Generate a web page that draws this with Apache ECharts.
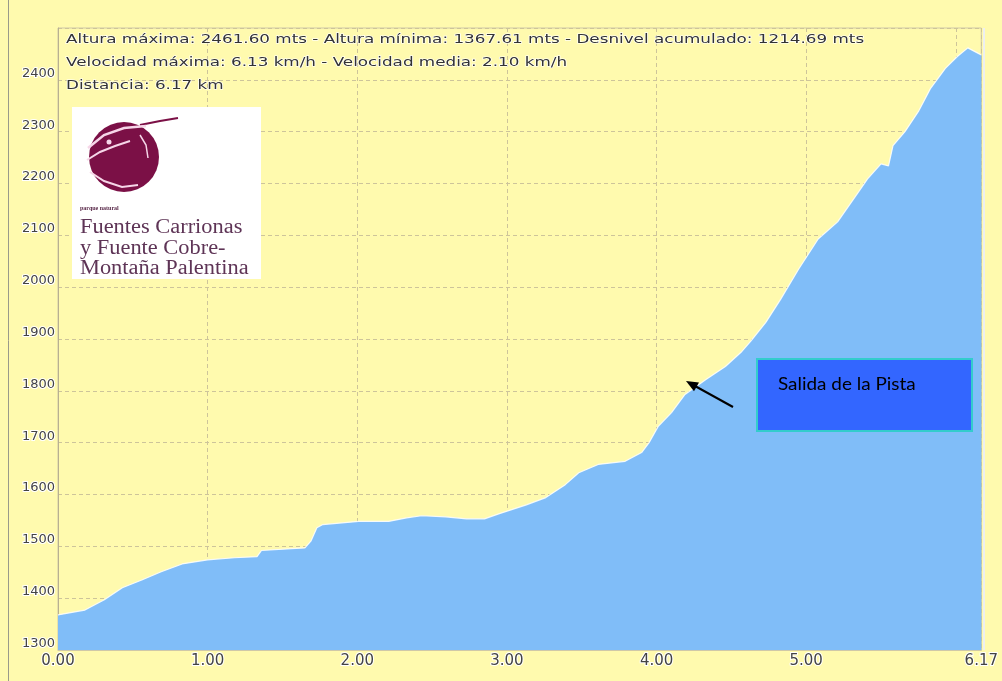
<!DOCTYPE html>
<html>
<head>
<meta charset="utf-8">
<script src="https://cdn.jsdelivr.net/npm/echarts@6/dist/echarts.min.js"></script>
<style>
html,body{margin:0;padding:0;background:#FFFAAE;}
#chart{width:1002px;height:681px;}
</style>
</head>
<body>
<div id="chart"></div>
<script>
// Distance (km) along the route
const distances = [0.00,0.18,0.31,0.43,0.56,0.69,0.83,1.00,1.18,1.33,1.36,1.65,1.69,1.73,1.77,2.01,2.21,2.33,2.43,2.59,2.73,2.85,2.95,3.13,3.26,3.39,3.48,3.61,3.79,3.90,3.95,4.01,4.10,4.19,4.33,4.46,4.57,4.63,4.73,4.83,4.95,5.08,5.21,5.35,5.41,5.50,5.55,5.58,5.66,5.75,5.83,5.93,6.01,6.08,6.15,6.17];
// Elevation (m)
const elevations = [1367.6,1377,1397,1420,1435,1451,1466,1474,1478,1480,1492,1497,1510,1536,1542,1548,1548,1555,1559,1557,1553,1553,1563,1580,1594,1619,1642,1658,1664,1681,1700,1731,1758,1793,1822,1847,1876,1896,1932,1977,2035,2093,2126,2184,2209,2238,2234,2273,2300,2339,2383,2422,2445,2461.6,2451,2448];
const statsLines = [
  "Altura máxima: 2461.60 mts - Altura mínima: 1367.61 mts - Desnivel acumulado: 1214.69 mts",
  "Velocidad máxima: 6.13 km/h - Velocidad media: 2.10 km/h",
  "Distancia: 6.17 km"
];
const logoLines = ["Fuentes Carrionas","y Fuente Cobre-","Montaña Palentina"];
const logoSmall = "parque natural";
const annotationText = "Salida de la Pista";

const chart = echarts.init(document.getElementById('chart'));
const data = distances.map((d,i)=>[d, elevations[i]]);

const graphics = [
  {type:'line', z:1, shape:{x1:8.5,y1:0,x2:8.5,y2:681}, style:{stroke:'#9a9a8a',lineWidth:1}},
  {type:'line', z:10, shape:{x1:984,y1:28,x2:984,y2:650}, style:{stroke:'#eef0f0',lineWidth:2}}
];
statsLines.forEach((t,i)=>{
  graphics.push({type:'text', x:66, y:33+i*23, scaleX:1.29, z:20,
    style:{text:t, font:'13px "DejaVu Sans"', fill:'#333333', stroke:'#ffffff', lineWidth:1.2}});
});
// logo
const maroon = '#7b1046', pale = '#f6d6e8';
[
  {type:'rect', shape:{x:72,y:107,width:189,height:172}, style:{fill:'#ffffff'}},
  {type:'circle', shape:{cx:124,cy:157,r:35}, style:{fill:maroon}},
  {type:'polyline', shape:{points:[[140,125],[160,121],[178,118]]}, style:{stroke:maroon,lineWidth:2,fill:null}},
  {type:'polyline', shape:{points:[[88,148],[104,135],[124,128],[146,126]]}, style:{stroke:pale,lineWidth:2.5,fill:null}},
  {type:'polyline', shape:{points:[[87,160],[100,152],[115,146],[130,141]]}, style:{stroke:pale,lineWidth:2,fill:null}},
  {type:'polyline', shape:{points:[[90,172],[104,181],[122,187],[138,185]]}, style:{stroke:pale,lineWidth:2,fill:null}},
  {type:'polyline', shape:{points:[[140,135],[146,145],[148,158]]}, style:{stroke:pale,lineWidth:1.5,fill:null}},
  {type:'circle', shape:{cx:109,cy:142,r:2.5}, style:{fill:pale}},
  {type:'text', x:80, y:205, style:{text:logoSmall, font:'bold 6px "Liberation Serif"', fill:'#5a2a4a'}},
  {type:'text', x:80, y:218, scaleX:1.12, style:{text:logoLines[0], font:'20px "Liberation Serif"', fill:'#5e3456'}},
  {type:'text', x:80, y:239, scaleX:1.12, style:{text:logoLines[1], font:'20px "Liberation Serif"', fill:'#5e3456'}},
  {type:'text', x:80, y:259, scaleX:1.12, style:{text:logoLines[2], font:'20px "Liberation Serif"', fill:'#5e3456'}}
].forEach(e=>{e.z=20; graphics.push(e);});
// annotation
[
  {type:'rect', shape:{x:757,y:359,width:215,height:72}, style:{fill:'#3366ff',stroke:'#33cccc',lineWidth:2}},
  {type:'text', x:778, y:384, style:{text:annotationText, font:'18px Lato', fill:'#000000', verticalAlign:'middle'}, scaleX:1.05},
  {type:'line', shape:{x1:733,y1:407,x2:695,y2:386}, style:{stroke:'#000000',lineWidth:2}},
  {type:'polygon', shape:{points:[[686,381],[699,382.4],[694,391.2]]}, style:{fill:'#000000'}}
].forEach(e=>{e.z=30; graphics.push(e);});

chart.setOption({
  backgroundColor:'#FFFAAE',
  animation:false,
  grid:{left:58,right:17,top:28,bottom:31,show:true,borderColor:'#cfc8a8',borderWidth:1,backgroundColor:'transparent'},
  xAxis:{type:'value',min:0,max:6.17,interval:1,
    axisLine:{show:true,lineStyle:{color:'#cfc8a8'}},
    axisTick:{show:false},
    axisLabel:{showMaxLabel:true,showMinLabel:true,hideOverlap:false,margin:4,fontFamily:'DejaVu Sans',fontSize:15,color:'#444',
      textBorderColor:'#ffffff',textBorderWidth:2,formatter:v=>v.toFixed(2)},
    splitLine:{show:true,lineStyle:{color:'#cdc49a',type:[4,3]}}
  },
  yAxis:{type:'value',min:1300,max:2500,interval:100,
    axisLine:{show:true,lineStyle:{color:'#b8b090'}},
    axisTick:{show:false},
    axisLabel:{margin:3,fontFamily:'DejaVu Sans',fontSize:13,color:'#444',verticalAlign:'bottom',lineHeight:13,
      textBorderColor:'#ffffff',textBorderWidth:2,formatter:v=>v>=2500?'':String(v)},
    splitLine:{show:true,lineStyle:{color:'#cdc49a',type:[4,3]}}
  },
  series:[{type:'line',data:data,showSymbol:false,
    lineStyle:{color:'#ffffff',width:1.2,opacity:0.85},
    areaStyle:{color:'#80bdf8',opacity:1,origin:'start'},
    z:2}],
  graphic:graphics
});
</script>
</body>
</html>
